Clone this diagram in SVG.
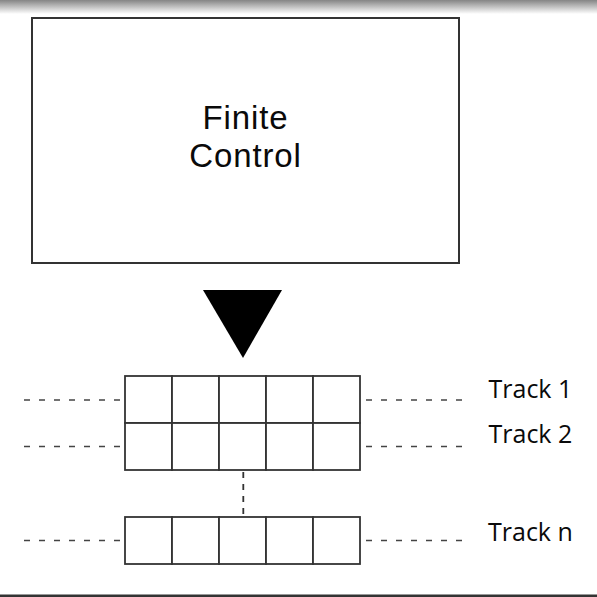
<svg xmlns="http://www.w3.org/2000/svg" width="597" height="597" viewBox="0 0 597 597">
<defs>
<linearGradient id="topfade" x1="0" y1="0" x2="0" y2="1">
<stop offset="0" stop-color="#858585"/>
<stop offset="1" stop-color="#ffffff"/>
</linearGradient>
<style>
.cell{fill:#ffffff;stroke:#333;stroke-width:1.8}
.dash{stroke:#444;stroke-width:1.5;stroke-dasharray:6 9;fill:none}
.lbl{font-family:"Open Sans","Noto Sans",sans-serif;font-size:25px;fill:#0a0a0a}
.title{font-family:"Liberation Sans",Arial,sans-serif;font-size:33px;letter-spacing:0.9px;fill:#0a0a0a;text-anchor:middle}
</style>
</defs>
<rect width="597" height="597" fill="#ffffff"/>
<rect x="0" y="0" width="597" height="14" fill="url(#topfade)"/>
<rect x="0" y="594.5" width="597" height="2.5" fill="#333"/>

<g id="finite-control">
<rect x="32" y="18" width="427" height="245" fill="#ffffff" stroke="#333" stroke-width="2"/>
<text class="title" x="245.5" y="128.5">Finite</text>
<text class="title" x="245.5" y="166.5">Control</text>
</g>

<g id="head">
<polygon points="203,290 282,290 243,358" fill="#000"/>
</g>

<g id="connectors">
<line class="dash" x1="120" y1="400" x2="19" y2="400"/>
<line class="dash" x1="120" y1="446.5" x2="19" y2="446.5"/>
<line class="dash" x1="120" y1="540.5" x2="19" y2="540.5"/>
<line class="dash" x1="366" y1="400" x2="467" y2="400"/>
<line class="dash" x1="366" y1="446.5" x2="467" y2="446.5"/>
<line class="dash" x1="366" y1="540.5" x2="467" y2="540.5"/>
<line x1="243.3" y1="470" x2="243.3" y2="517" stroke="#333" stroke-width="1.8" stroke-dasharray="6 6" stroke-dashoffset="-2"/>
</g>

<g id="track1">
<rect class="cell" x="125" y="376" width="47" height="47"/>
<rect class="cell" x="172" y="376" width="47" height="47"/>
<rect class="cell" x="219" y="376" width="47" height="47"/>
<rect class="cell" x="266" y="376" width="47" height="47"/>
<rect class="cell" x="313" y="376" width="47" height="47"/>
<text class="lbl" x="488.5" y="398">Track 1</text>
</g>

<g id="track2">
<rect class="cell" x="125" y="423" width="47" height="47"/>
<rect class="cell" x="172" y="423" width="47" height="47"/>
<rect class="cell" x="219" y="423" width="47" height="47"/>
<rect class="cell" x="266" y="423" width="47" height="47"/>
<rect class="cell" x="313" y="423" width="47" height="47"/>
<text class="lbl" x="488.5" y="443">Track 2</text>
</g>

<g id="trackn">
<rect class="cell" x="125" y="517" width="47" height="47"/>
<rect class="cell" x="172" y="517" width="47" height="47"/>
<rect class="cell" x="219" y="517" width="47" height="47"/>
<rect class="cell" x="266" y="517" width="47" height="47"/>
<rect class="cell" x="313" y="517" width="47" height="47"/>
<text class="lbl" x="488" y="540.5">Track n</text>
</g>
</svg>
